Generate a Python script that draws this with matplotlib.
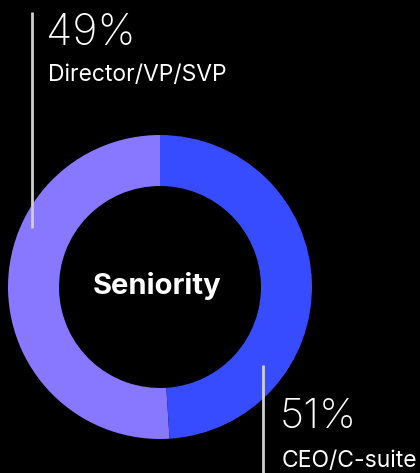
import matplotlib
matplotlib.use("Agg")
import matplotlib.pyplot as plt

# Data
categories = ["CEO/C-suite", "Director/VP/SVP"]
shares = [51, 49]
ring_colors = ["#8878FF", "#384CFF"]
title = "Seniority"

W, H = 420, 473
fig = plt.figure(figsize=(W / 100, H / 100), dpi=100, facecolor="black")
ax = fig.add_axes([0, 0, 1, 1])
ax.set_facecolor("black")

cx, cy, r_out, ring_w = 160, H - 287, 152, 51
ax.pie(shares, colors=ring_colors, startangle=90, counterclock=True,
       center=(cx, cy), radius=r_out, frame=True,
       wedgeprops=dict(width=ring_w, linewidth=0))
ax.set_xlim(0, W)
ax.set_ylim(0, H)
ax.set_aspect("equal")
ax.axis("off")

ax.text(cx - 3, cy + 1, title, ha="center", va="center", color="white",
        fontsize=21, fontweight="bold", family="Inter")

line_c = "#CFCFCF"
# Director/VP/SVP callout
ax.plot([32, 32], [H - 12, H - 228], color=line_c, lw=2, solid_capstyle="butt")
ax.text(46, H - 45, f"{shares[1]}%", color="white", fontsize=31,
        fontweight="light", family="Inter", ha="left", va="baseline")
ax.text(48, H - 81, categories[1], color="white", fontsize=16.5,
        family="Inter", ha="left", va="baseline")

# CEO/C-suite callout
ax.plot([263, 263], [H - 365, 0], color=line_c, lw=2, solid_capstyle="butt")
ax.text(280, H - 428, f"{shares[0]}%", color="white", fontsize=30,
        fontweight="light", family="Inter", ha="left", va="baseline")
ax.text(282, H - 467, categories[0], color="white", fontsize=16.5,
        family="Inter", ha="left", va="baseline")

fig.savefig("out.png", dpi=100, facecolor="black")
